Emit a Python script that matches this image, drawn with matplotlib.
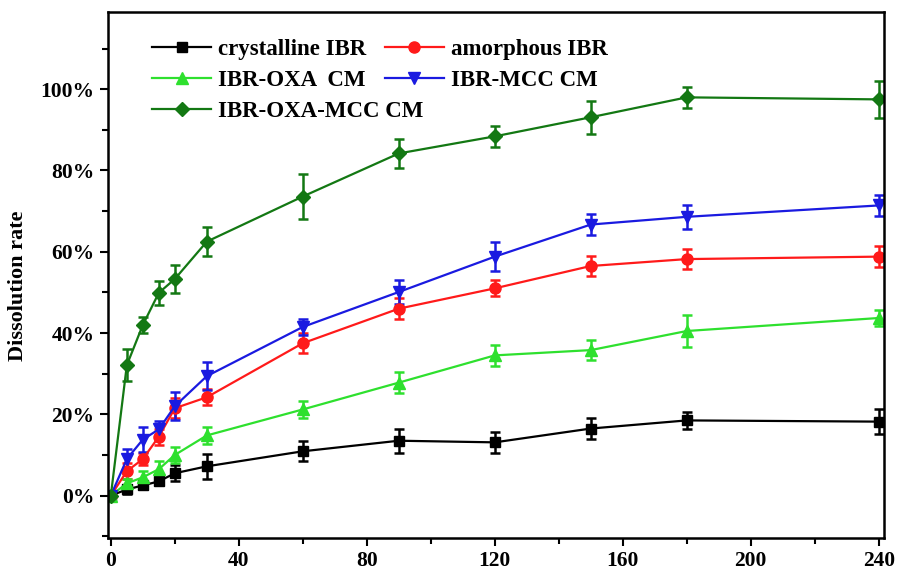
import numpy as np
import matplotlib
matplotlib.use('Agg')
import matplotlib.pyplot as plt
from matplotlib.lines import Line2D
from matplotlib.ticker import MultipleLocator, PercentFormatter

plt.rcParams['font.family'] = ['Liberation Serif', 'DejaVu Serif']
plt.rcParams['font.weight'] = 'bold'

# time points (min)
time = [0, 5, 10, 15, 20, 30, 60, 90, 120, 150, 180, 240]

# dissolution rate (%) and error bars
crystalline = [0, 1.5, 2.5, 3.5, 5.5, 7.2, 10.9, 13.5, 13.1, 16.5, 18.5, 18.2]
crystalline_err = [0, 1, 1, 1, 2, 3, 2.5, 3, 2.5, 2.5, 2, 3]
amorphous = [0, 6, 9, 14.5, 21.5, 24.2, 37.5, 46, 51, 56.5, 58.2, 58.8]
amorphous_err = [0, 2, 1.5, 2, 2.5, 2, 2.5, 2.5, 2, 2.5, 2.5, 2.5]
oxa_cm = [0, 3, 4.5, 6.5, 10, 14.8, 21.2, 27.8, 34.5, 35.8, 40.5, 43.7]
oxa_cm_err = [0, 1, 1.5, 2, 2, 2, 2, 2.5, 2.5, 2.5, 4, 2]
mcc_cm = [0, 9, 13.8, 16.3, 22, 29.4, 41.5, 50.1, 58.8, 66.7, 68.6, 71.4]
mcc_cm_err = [0, 2.5, 3, 2, 3.5, 3.5, 2, 3, 3.5, 2.5, 3, 2.5]
oxa_mcc_cm = [0, 32.1, 42, 49.9, 53.3, 62.5, 73.6, 84.2, 88.4, 93.1, 98, 97.5]
oxa_mcc_cm_err = [0, 4, 2, 3, 3.5, 3.5, 5.5, 3.5, 2.5, 4, 2.5, 4.5]

series = [
    ('crystalline IBR', crystalline, crystalline_err, 'black', 's', 7),
    ('amorphous IBR', amorphous, amorphous_err, '#ff1a1a', 'o', 8),
    ('IBR-OXA  CM', oxa_cm, oxa_cm_err, '#2ee02e', '^', 8),
    ('IBR-MCC CM', mcc_cm, mcc_cm_err, '#1a1ae0', 'v', 8),
    ('IBR-OXA-MCC CM', oxa_mcc_cm, oxa_mcc_cm_err, '#137813', 'D', 7),
]

fig = plt.figure(figsize=(8.97, 5.72), dpi=100)
ax = fig.add_axes([0.120, 0.059, 0.865, 0.920])

handles = {}
for name, vals, err, color, marker, ms in series:
    ax.errorbar(time, np.array(vals) / 100, yerr=np.array(err) / 100,
                color=color, marker=marker, markersize=ms, linewidth=1.6,
                elinewidth=1.8, capsize=3.5, capthick=1.8)
    handles[name] = Line2D([], [], color=color, marker=marker, markersize=ms,
                           linewidth=1.6)

ax.set_xlim(-1, 241.5)
ax.set_ylim(-0.105, 1.19)
ax.xaxis.set_major_locator(MultipleLocator(40))
ax.xaxis.set_minor_locator(MultipleLocator(20))
ax.yaxis.set_major_locator(MultipleLocator(0.2))
ax.yaxis.set_minor_locator(MultipleLocator(0.1))
ax.yaxis.set_major_formatter(PercentFormatter(1.0, decimals=0))
ax.tick_params(which='both', direction='out', width=1.5, labelsize=15.5)
ax.tick_params(which='major', length=6)
ax.tick_params(which='minor', length=4)
for sp in ax.spines.values():
    sp.set_linewidth(1.8)

ax.set_ylabel('Dissolution rate', fontsize=16, fontweight='bold')
ax.yaxis.set_label_coords(-0.102, 0.48)

# legend is laid out as two overlapping columns, like the original
leg_kw = dict(loc='upper left', frameon=False, fontsize=16.5, borderpad=0,
              borderaxespad=0, handlelength=2.6, labelspacing=0.42,
              handletextpad=0.3)
col1 = ['crystalline IBR', 'IBR-OXA  CM', 'IBR-OXA-MCC CM']
col2 = ['amorphous IBR', 'IBR-MCC CM']
leg1 = ax.legend([handles[n] for n in col1], col1,
                 bbox_to_anchor=(0.057, 0.948), **leg_kw)
ax.add_artist(leg1)
ax.legend([handles[n] for n in col2], col2,
          bbox_to_anchor=(0.357, 0.948), **leg_kw)

fig.savefig('out.png', dpi=100)
